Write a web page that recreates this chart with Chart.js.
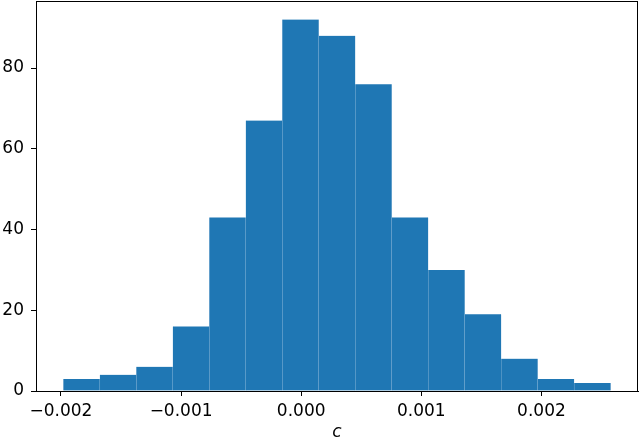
<!DOCTYPE html>
<html>
<head>
<meta charset="utf-8">
<script src="https://cdn.jsdelivr.net/npm/chart.js@4"></script>
<style>
  html, body { margin: 0; padding: 0; background: #fff; }
  #wrap { width: 640px; height: 444px; }
</style>
</head>
<body>
<div id="wrap"><canvas id="chartCanvas" width="640" height="444"></canvas></div>
<script>
// histogram of c: 15 equal bins
const binStart = -0.00198;
const binEnd = 0.002576;
const counts = [3, 4, 6, 16, 43, 67, 92, 88, 76, 43, 30, 19, 8, 3, 2];
const xTicks = [-0.002, -0.001, 0.000, 0.001, 0.002];
const yTicks = [0, 20, 40, 60, 80];

const binW = (binEnd - binStart) / counts.length;
const points = counts.map((c, i) => ({x: binStart + binW * (i + 0.5), y: c}));

const xPad = (binEnd - binStart) * 0.05;
const yMax = Math.max(...counts) * 1.05;

const FONT = {family: 'DejaVu Sans', size: 17};

// matplotlib-style box around the plot area
const frame = {
  id: 'frame',
  afterDraw(chart){
    const {ctx, chartArea: a} = chart;
    ctx.save();
    ctx.strokeStyle = '#000';
    ctx.lineWidth = 1;
    ctx.strokeRect(a.left + 0.5, a.top + 0.5, a.right - a.left - 1, a.bottom - a.top);
    ctx.restore();
  }
};

new Chart(document.getElementById('chartCanvas').getContext('2d'), {
  type: 'bar',
  data: {
    datasets: [{
      data: points,
      backgroundColor: '#1f77b4',
      borderColor: 'rgba(120,170,210,0.6)',
      borderWidth: {left: 0.5, right: 0.5, top: 0, bottom: 0},
      barPercentage: 1,
      categoryPercentage: 1
    }]
  },
  options: {
    responsive: false,
    animation: false,
    layout: {padding: {top: 1, right: 2, left: 0, bottom: 0}},
    plugins: {legend: {display: false}, tooltip: {enabled: false}},
    scales: {
      x: {
        type: 'linear',
        offset: false,
        min: binStart - xPad,
        max: binEnd + xPad,
        afterBuildTicks: s => { s.ticks = xTicks.map(v => ({value: v})); },
        afterFit: s => { s.height = 53; s.paddingLeft = 0; s.paddingRight = 0; },
        grid: {offset: false, drawOnChartArea: false, drawTicks: true, tickLength: 5, color: '#000'},
        border: {display: true, color: '#000', width: 1},
        ticks: {
          color: '#000', font: FONT, padding: 5, maxRotation: 0,
          callback: v => v.toFixed(3).replace('-', '\u2212')
        },
        title: {display: true, text: 'c', color: '#000',
                font: {family: 'DejaVu Sans', size: 17, style: 'italic'},
                padding: {top: 0, bottom: 1}}
      },
      y: {
        min: 0,
        max: yMax,
        afterBuildTicks: s => { s.ticks = yTicks.map(v => ({value: v})); },
        afterFit: s => { s.width = 36; s.paddingTop = 0; s.paddingBottom = 0; },
        grid: {drawOnChartArea: false, drawTicks: true, tickLength: 5, color: '#000'},
        border: {display: true, color: '#000', width: 1},
        ticks: {color: '#000', font: FONT, padding: 7}
      }
    }
  },
  plugins: [frame]
});
</script>
</body>
</html>
